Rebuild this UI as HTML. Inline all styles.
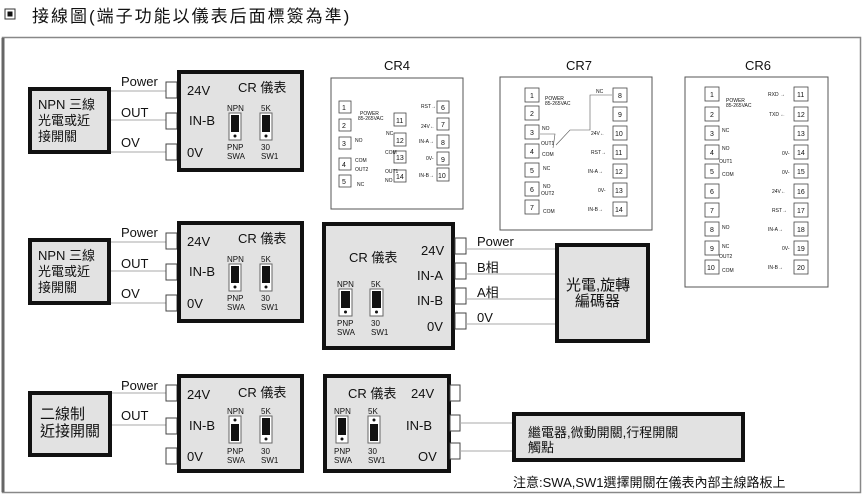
<!DOCTYPE html>
<html><head><meta charset="utf-8"><style>
html,body{margin:0;padding:0;background:#fff;width:865px;height:497px;overflow:hidden}
svg{display:block}
text{font-family:"Liberation Sans","Noto Sans CJK TC",sans-serif;fill:#111}
.t{font-size:13px}
.s{font-size:10px}
.x{font-size:5px}
.n{font-size:8px}
</style></head><body>
<svg width="865" height="497" viewBox="0 0 865 497" xmlns="http://www.w3.org/2000/svg">
<rect x="5" y="9" width="10" height="10" fill="#fff" stroke="#333" stroke-width="1"/>
<rect x="7.5" y="11.5" width="5" height="5" fill="#111"/>
<text x="32" y="22" style="font-size:17px;letter-spacing:2px">接線圖(端子功能以儀表后面標簽為準)</text>
<rect x="2.5" y="37.5" width="858" height="455" fill="#fff" stroke="#888" stroke-width="1.5"/>
<line x1="3" y1="38" x2="3" y2="492" stroke="#666" stroke-width="3"/>

<g id="row1">
<rect x="30" y="89" width="79" height="63" fill="#e2e2e2" stroke="#111" stroke-width="4"/>
<text x="38" y="109" class="t">NPN 三線</text>
<text x="38" y="125" class="t">光電或近</text>
<text x="38" y="141" class="t">接開關</text>
<line x1="111" y1="91" x2="167" y2="91" stroke="#aaa"/>
<line x1="111" y1="120" x2="167" y2="120" stroke="#aaa"/>
<line x1="111" y1="152" x2="167" y2="152" stroke="#aaa"/>
<text x="121" y="86" class="t">Power</text>
<text x="121" y="117" class="t">OUT</text>
<text x="121" y="147" class="t">OV</text>
<rect x="166" y="82" width="11" height="16" fill="#fff" stroke="#444"/>
<rect x="166" y="113" width="11" height="16" fill="#fff" stroke="#444"/>
<rect x="166" y="144" width="11" height="16" fill="#fff" stroke="#444"/>
<rect x="179" y="72" width="123" height="98" fill="#e2e2e2" stroke="#111" stroke-width="4"/>
<text x="187" y="95" class="t">24V</text>
<text x="238" y="92" class="t">CR 儀表</text>
<text x="189" y="125" class="t">IN-B</text>
<text x="187" y="157" class="t">0V</text>
<text x="227" y="111" class="n">NPN</text><text x="261" y="111" class="n">5K</text>
<rect x="229" y="113" width="12" height="27" fill="#fff" stroke="#666"/><rect x="231" y="115" width="8" height="17" fill="#111"/><circle cx="235" cy="136" r="1.5" fill="#111"/>
<rect x="260" y="113" width="12" height="27" fill="#fff" stroke="#666"/><rect x="262" y="115" width="8" height="17" fill="#111"/><circle cx="266" cy="136" r="1.5" fill="#111"/>
<text x="227" y="150" class="n">PNP</text><text x="227" y="159" class="n">SWA</text>
<text x="261" y="150" class="n">30</text><text x="261" y="159" class="n">SW1</text>
</g>
<use href="#row1" transform="translate(0,151)"/>

<!-- middle -->
<rect x="324" y="224" width="129" height="124" fill="#e2e2e2" stroke="#111" stroke-width="4"/>
<text x="349" y="262" class="t">CR 儀表</text>
<text x="421" y="255" class="t">24V</text>
<text x="417" y="280" class="t">IN-A</text>
<text x="417" y="305" class="t">IN-B</text>
<text x="427" y="331" class="t">0V</text>
<text x="337" y="287" class="n">NPN</text><text x="371" y="287" class="n">5K</text>
<rect x="339" y="289" width="13" height="27" fill="#fff" stroke="#666"/><rect x="341" y="291" width="9" height="17" fill="#111"/><circle cx="345.5" cy="312" r="1.5" fill="#111"/>
<rect x="370" y="289" width="13" height="27" fill="#fff" stroke="#666"/><rect x="372" y="291" width="9" height="17" fill="#111"/><circle cx="376.5" cy="312" r="1.5" fill="#111"/>
<text x="337" y="326" class="n">PNP</text><text x="337" y="335" class="n">SWA</text>
<text x="371" y="326" class="n">30</text><text x="371" y="335" class="n">SW1</text>
<rect x="455" y="238" width="11" height="16" fill="#fff" stroke="#444"/>
<rect x="455" y="263" width="11" height="16" fill="#fff" stroke="#444"/>
<rect x="455" y="288" width="11" height="16" fill="#fff" stroke="#444"/>
<rect x="455" y="313" width="11" height="16" fill="#fff" stroke="#444"/>
<line x1="466" y1="249" x2="556" y2="249" stroke="#aaa"/>
<line x1="466" y1="274" x2="556" y2="274" stroke="#aaa"/>
<line x1="466" y1="299" x2="556" y2="299" stroke="#aaa"/>
<line x1="466" y1="324" x2="556" y2="324" stroke="#aaa"/>
<text x="477" y="246" class="t">Power</text>
<text x="477" y="272" class="t">B相</text>
<text x="477" y="297" class="t">A相</text>
<text x="477" y="322" class="t">0V</text>
<rect x="557" y="245" width="91" height="96" fill="#e2e2e2" stroke="#111" stroke-width="4"/>
<text x="566" y="290" style="font-size:15px">光電,旋轉</text>
<text x="575" y="306" style="font-size:15px">編碼器</text>

<!-- row 3 -->
<rect x="30" y="393" width="80" height="62" fill="#e2e2e2" stroke="#111" stroke-width="4"/>
<text x="40" y="419" style="font-size:15px">二線制</text>
<text x="40" y="436" style="font-size:15px">近接開關</text>
<line x1="112" y1="393" x2="167" y2="393" stroke="#aaa"/>
<line x1="112" y1="425" x2="167" y2="425" stroke="#aaa"/>
<text x="121" y="390" class="t">Power</text>
<text x="121" y="420" class="t">OUT</text>
<rect x="166" y="385" width="11" height="16" fill="#fff" stroke="#444"/>
<rect x="166" y="418" width="11" height="16" fill="#fff" stroke="#444"/>
<rect x="166" y="448" width="11" height="16" fill="#fff" stroke="#444"/>
<rect x="179" y="376" width="123" height="95" fill="#e2e2e2" stroke="#111" stroke-width="4"/>
<text x="187" y="399" class="t">24V</text>
<text x="238" y="397" class="t">CR 儀表</text>
<text x="189" y="430" class="t">IN-B</text>
<text x="187" y="461" class="t">0V</text>
<text x="227" y="414" class="n">NPN</text><text x="261" y="414" class="n">5K</text>
<rect x="229" y="416" width="12" height="27" fill="#fff" stroke="#666"/><rect x="231" y="424" width="8" height="17" fill="#111"/><circle cx="235" cy="420" r="1.5" fill="#111"/>
<rect x="260" y="416" width="12" height="27" fill="#fff" stroke="#666"/><rect x="262" y="418" width="8" height="17" fill="#111"/><circle cx="266" cy="439" r="1.5" fill="#111"/>
<text x="227" y="454" class="n">PNP</text><text x="227" y="463" class="n">SWA</text>
<text x="261" y="454" class="n">30</text><text x="261" y="463" class="n">SW1</text>

<rect x="325" y="376" width="124" height="95" fill="#e2e2e2" stroke="#111" stroke-width="4"/>
<text x="348" y="398" class="t">CR 儀表</text>
<text x="411" y="398" class="t">24V</text>
<text x="406" y="430" class="t">IN-B</text>
<text x="418" y="461" class="t">OV</text>
<text x="334" y="414" class="n">NPN</text><text x="368" y="414" class="n">5K</text>
<rect x="336" y="416" width="12" height="27" fill="#fff" stroke="#666"/><rect x="338" y="418" width="8" height="17" fill="#111"/><circle cx="342" cy="439" r="1.5" fill="#111"/>
<rect x="368" y="416" width="12" height="27" fill="#fff" stroke="#666"/><rect x="370" y="424" width="8" height="17" fill="#111"/><circle cx="374" cy="420" r="1.5" fill="#111"/>
<text x="334" y="454" class="n">PNP</text><text x="334" y="463" class="n">SWA</text>
<text x="368" y="454" class="n">30</text><text x="368" y="463" class="n">SW1</text>
<rect x="450" y="385" width="10" height="16" fill="#fff" stroke="#444"/>
<rect x="450" y="415" width="10" height="16" fill="#fff" stroke="#444"/>
<rect x="450" y="443" width="10" height="16" fill="#fff" stroke="#444"/>
<line x1="460" y1="423" x2="513" y2="423" stroke="#aaa"/>
<line x1="460" y1="451" x2="513" y2="451" stroke="#aaa"/>
<rect x="514" y="414" width="229" height="46" fill="#e2e2e2" stroke="#111" stroke-width="4"/>
<text x="528" y="437" class="t">繼電器,微動開關,行程開關</text>
<text x="528" y="452" class="t">觸點</text>
<text x="513" y="487" class="t">注意:SWA,SW1選擇開關在儀表內部主線路板上</text>

<!-- CR4 -->
<text x="384" y="70" class="t">CR4</text>
<rect x="331" y="78" width="132" height="131" fill="#fff" stroke="#555"/>
<g fill="#fff" stroke="#444" stroke-width=".8">
<rect x="339" y="101" width="12" height="12"/><rect x="339" y="119" width="12" height="12"/><rect x="339" y="137" width="12" height="12"/><rect x="339" y="158" width="12" height="12"/><rect x="339" y="175" width="12" height="12"/>
<rect x="394" y="113" width="12" height="13"/><rect x="394" y="133" width="12" height="13"/><rect x="394" y="151" width="12" height="12"/><rect x="394" y="170" width="12" height="12"/>
<rect x="437" y="101" width="12" height="12"/><rect x="437" y="118" width="12" height="12"/><rect x="437" y="135" width="12" height="13"/><rect x="437" y="152" width="12" height="13"/><rect x="437" y="168" width="12" height="13"/>
</g>
<g class="n" style="font-size:7px">
<text x="342" y="110">1</text><text x="342" y="128">2</text><text x="342" y="146">3</text><text x="342" y="167">4</text><text x="342" y="184">5</text>
<text x="396" y="123">11</text><text x="396" y="143">12</text><text x="396" y="160">13</text><text x="396" y="179">14</text>
<text x="441" y="110">6</text><text x="441" y="127">7</text><text x="441" y="145">8</text><text x="441" y="162">9</text><text x="438" y="178">10</text>
</g>
<g class="x"><text x="360" y="115">POWER</text><text x="358" y="120">85-265VAC</text><text x="355" y="142">NO</text><text x="355" y="162">COM</text><text x="355" y="171">OUT2</text><text x="357" y="186">NC</text>
<text x="386" y="135">NC</text><text x="385" y="154">COM</text><text x="385" y="173">OUT1</text><text x="385" y="182">NO</text>
<text x="421" y="108">RST→</text><text x="421" y="128">24V←</text><text x="419" y="143">IN-A→</text><text x="426" y="160">0V-</text><text x="419" y="177">IN-B→</text></g>

<!-- CR7 -->
<text x="566" y="70" class="t">CR7</text>
<rect x="500" y="77" width="152" height="153" fill="#fff" stroke="#555"/>
<g fill="#fff" stroke="#444" stroke-width=".8">
<rect x="525" y="88" width="14" height="14"/><rect x="525" y="106" width="14" height="14"/><rect x="525" y="125" width="14" height="14"/><rect x="525" y="144" width="14" height="14"/><rect x="525" y="163" width="14" height="14"/><rect x="525" y="182" width="14" height="14"/><rect x="525" y="200" width="14" height="14"/>
<rect x="613" y="88" width="14" height="14"/><rect x="613" y="107" width="14" height="14"/><rect x="613" y="126" width="14" height="14"/><rect x="613" y="145" width="14" height="14"/><rect x="613" y="164" width="14" height="14"/><rect x="613" y="183" width="14" height="14"/><rect x="613" y="202" width="14" height="14"/>
</g>
<g style="font-size:7px"><text x="530" y="98">1</text><text x="530" y="116">2</text><text x="530" y="135">3</text><text x="530" y="154">4</text><text x="530" y="173">5</text><text x="530" y="192">6</text><text x="530" y="210">7</text>
<text x="618" y="98">8</text><text x="618" y="117">9</text><text x="615" y="136">10</text><text x="615" y="155">11</text><text x="615" y="174">12</text><text x="615" y="193">13</text><text x="615" y="212">14</text></g>
<g class="x"><text x="545" y="100">POWER</text><text x="545" y="105">85-265VAC</text><text x="542" y="130">NO</text><text x="541" y="145">OUT1</text><text x="542" y="156">COM</text><text x="543" y="170">NC</text><text x="543" y="188">NO</text><text x="541" y="195">OUT2</text><text x="543" y="213">COM</text>
<text x="596" y="93">NC</text><text x="591" y="135">24V←</text><text x="591" y="154">RST→</text><text x="588" y="173">IN-A→</text><text x="598" y="192">0V-</text><text x="588" y="211">IN-B→</text></g>
<path d="M540 134 H555 L553 148 M556 145 L570 130 H590 V95 H612" fill="none" stroke="#555" stroke-width=".6"/>

<!-- CR6 -->
<text x="745" y="70" class="t">CR6</text>
<rect x="685" y="77" width="143" height="210" fill="#fff" stroke="#555"/>
<g fill="#fff" stroke="#444" stroke-width=".8">
<rect x="705" y="87" width="14" height="14"/><rect x="705" y="107" width="14" height="14"/><rect x="705" y="126" width="14" height="14"/><rect x="705" y="145" width="14" height="14"/><rect x="705" y="164" width="14" height="14"/><rect x="705" y="184" width="14" height="14"/><rect x="705" y="203" width="14" height="14"/><rect x="705" y="222" width="14" height="14"/><rect x="705" y="241" width="14" height="14"/><rect x="705" y="260" width="14" height="14"/>
<rect x="794" y="87" width="14" height="14"/><rect x="794" y="107" width="14" height="14"/><rect x="794" y="126" width="14" height="14"/><rect x="794" y="145" width="14" height="14"/><rect x="794" y="164" width="14" height="14"/><rect x="794" y="184" width="14" height="14"/><rect x="794" y="203" width="14" height="14"/><rect x="794" y="222" width="14" height="14"/><rect x="794" y="241" width="14" height="14"/><rect x="794" y="260" width="14" height="14"/>
</g>
<g style="font-size:7px"><text x="710" y="97">1</text><text x="710" y="117">2</text><text x="710" y="136">3</text><text x="710" y="155">4</text><text x="710" y="174">5</text><text x="710" y="194">6</text><text x="710" y="213">7</text><text x="710" y="232">8</text><text x="710" y="251">9</text><text x="707" y="270">10</text>
<text x="797" y="97">11</text><text x="797" y="117">12</text><text x="797" y="136">13</text><text x="797" y="155">14</text><text x="797" y="174">15</text><text x="797" y="194">16</text><text x="797" y="213">17</text><text x="797" y="232">18</text><text x="797" y="251">19</text><text x="797" y="270">20</text></g>
<g class="x"><text x="726" y="102">POWER</text><text x="726" y="107">85-265VAC</text><text x="722" y="132">NC</text><text x="722" y="150">NO</text><text x="719" y="163">OUT1</text><text x="722" y="176">COM</text><text x="722" y="229">NO</text><text x="722" y="248">NC</text><text x="719" y="258">OUT2</text><text x="722" y="272">COM</text>
<text x="768" y="96">RXD →</text><text x="769" y="116">TXD ←</text><text x="782" y="155">0V-</text><text x="782" y="174">0V-</text><text x="772" y="193">24V←</text><text x="772" y="212">RST→</text><text x="768" y="231">IN-A→</text><text x="782" y="250">0V-</text><text x="768" y="269">IN-B→</text></g>
</svg>
</body></html>
